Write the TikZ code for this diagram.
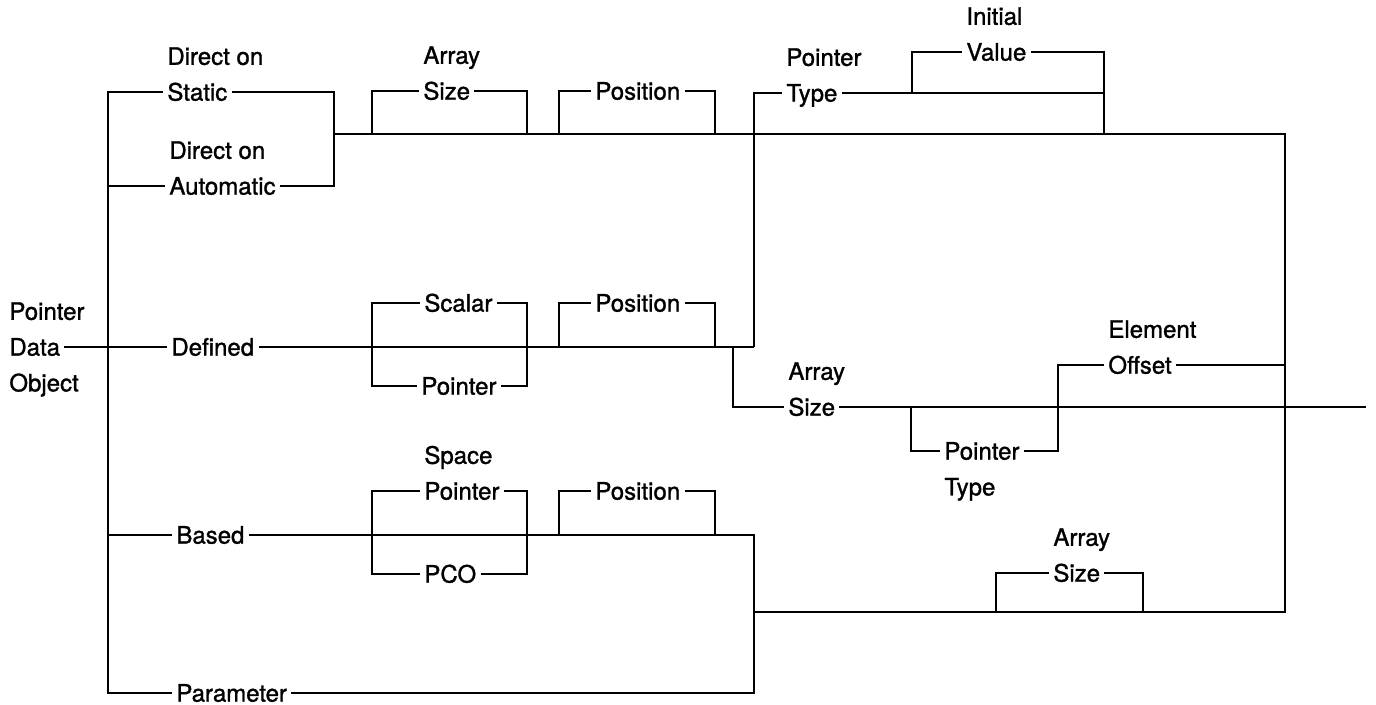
\documentclass[tikz,border=0pt]{standalone}
\usepackage{fontspec}
\setmainfont{TeX Gyre Heros}
\newfontfamily\medfont{TeX Gyre Heros}[FakeBold=1.2]
\usetikzlibrary{positioning}

\tikzset{
  lbl/.style={inner xsep=1.5pt, inner ysep=1pt, text height=8.6pt, text depth=0pt,
    anchor=west, font=\medfont\fontsize{12pt}{14pt}\selectfont},
  stackup/.style={above=5.9pt of #1.north west, anchor=south west},
  stackdown/.style={below=5.9pt of #1.south west, anchor=north west},
}

\begin{document}
\begin{tikzpicture}[x=0.5pt, y=-0.5pt, line width=1.4pt]
  \useasboundingbox (0,0) rectangle (1376,705);
  \coordinate (spine) at (108,0);
  \coordinate (c1) at (372,0);
  \coordinate (c2) at (527,0);
  \coordinate (c3) at (559,0);
  \coordinate (c4) at (715,0);
  \coordinate (c5) at (754,0);
  \coordinate (c6) at (912,0);
  \coordinate (c7) at (1104,0);
  \coordinate (c8) at (733,0);
  \coordinate (c9) at (911,0);
  \coordinate (c10) at (1058,0);
  \coordinate (c11) at (996,0);
  \coordinate (c12) at (1143,0);
  \coordinate (joinA) at (334,134);
  \coordinate (endA) at (1285,134);
  \coordinate (joinB) at (754,612);
  \coordinate (exit) at (1366,407);

  \node[lbl] (data) at (5,347) {Data};
  \node[lbl, stackup=data] (pdotop) {Pointer};
  \node[lbl, stackdown=data] (pdobot) {Object};

  \node[lbl] (static) at (163,92) {Static};
  \node[lbl, stackup=static] (dirs) {Direct on};
  \node[lbl] (auto) at (165,186) {Automatic};
  \node[lbl, stackup=auto] (dira) {Direct on};
  \node[lbl] (defd) at (167,347) {Defined};
  \node[lbl] (based) at (172,535) {Based};
  \node[lbl] (param) at (172,693) {Parameter};

  \node[lbl] (sizeA) at (419,91) {Size};
  \node[lbl, stackup=sizeA] (arrA) {Array};
  \node[lbl] (posA) at (591,91) {Position};
  \node[lbl] (typeA) at (782,93) {Type};
  \node[lbl, stackup=typeA] (ptrA) {Pointer};
  \node[lbl] (valA) at (962,52) {Value};
  \node[lbl, stackup=valA] (iniA) {Initial};

  \node[lbl] (scal) at (420,303) {Scalar};
  \node[lbl] (ptrB) at (417,386) {Pointer};
  \node[lbl] (posB) at (591,303) {Position};
  \node[lbl] (sizeB) at (784,407) {Size};
  \node[lbl, stackup=sizeB] (arrB) {Array};
  \node[lbl] (ptrC) at (940,451) {Pointer};
  \node[lbl, stackdown=ptrC] (typC) {Type};
  \node[lbl] (offs) at (1104,365) {Offset};
  \node[lbl, stackup=offs] (elem) {Element};

  \node[lbl] (ptrD) at (420,491) {Pointer};
  \node[lbl, stackup=ptrD] (spc) {Space};
  \node[lbl] (pco) at (420,574) {PCO};
  \node[lbl] (posD) at (591,491) {Position};
  \node[lbl] (sizeE) at (1049,573) {Size};
  \node[lbl, stackup=sizeE] (arrE) {Array};

  \draw (static.west) -- (static.west -| spine) -- (param.west -| spine) -- (param.west);
  \draw (auto.west -| spine) -- (auto.west);
  \draw (data.east) -- (defd.west);
  \draw (based.west -| spine) -- (based.west);

  \draw (static.east) -| (joinA);
  \draw (auto.east) -| (joinA);
  \draw (joinA) -- (endA) |- (joinB);
  \draw (joinA -| c1) |- (sizeA.west);
  \draw (sizeA.east) -| (joinA -| c2);
  \draw (joinA -| c3) |- (posA.west);
  \draw (posA.east) -| (joinA -| c4);
  \draw (defd.east -| c5) |- (typeA.west);
  \draw (typeA.east) -| (joinA -| c7);
  \draw (typeA.east -| c6) |- (valA.west);
  \draw (valA.east) -| (typeA.east -| c7);

  \draw (defd.east) -- (defd.east -| c5);
  \draw (defd.east -| c1) |- (scal.west);
  \draw (scal.east) -| (defd.east -| c2);
  \draw (defd.east -| c1) |- (ptrB.west);
  \draw (ptrB.east) -| (defd.east -| c2);
  \draw (defd.east -| c3) |- (posB.west);
  \draw (posB.east) -| (defd.east -| c4);
  \draw (defd.east -| c8) |- (sizeB.west);
  \draw (sizeB.east) -- (exit);
  \draw (sizeB.east -| c9) |- (ptrC.west);
  \draw (ptrC.east) -| (offs.west -| c10) -- (offs.west);
  \draw (offs.east) -- (offs.east -| endA);

  \draw (based.east) -- (based.east -| c5) -- (param.east -| c5) -- (param.east);
  \draw (based.east -| c1) |- (ptrD.west);
  \draw (ptrD.east) -| (based.east -| c2);
  \draw (based.east -| c1) |- (pco.west);
  \draw (pco.east) -| (based.east -| c2);
  \draw (based.east -| c3) |- (posD.west);
  \draw (posD.east) -| (based.east -| c4);
  \draw (joinB -| c11) |- (sizeE.west);
  \draw (sizeE.east) -| (joinB -| c12);
\end{tikzpicture}
\end{document}
